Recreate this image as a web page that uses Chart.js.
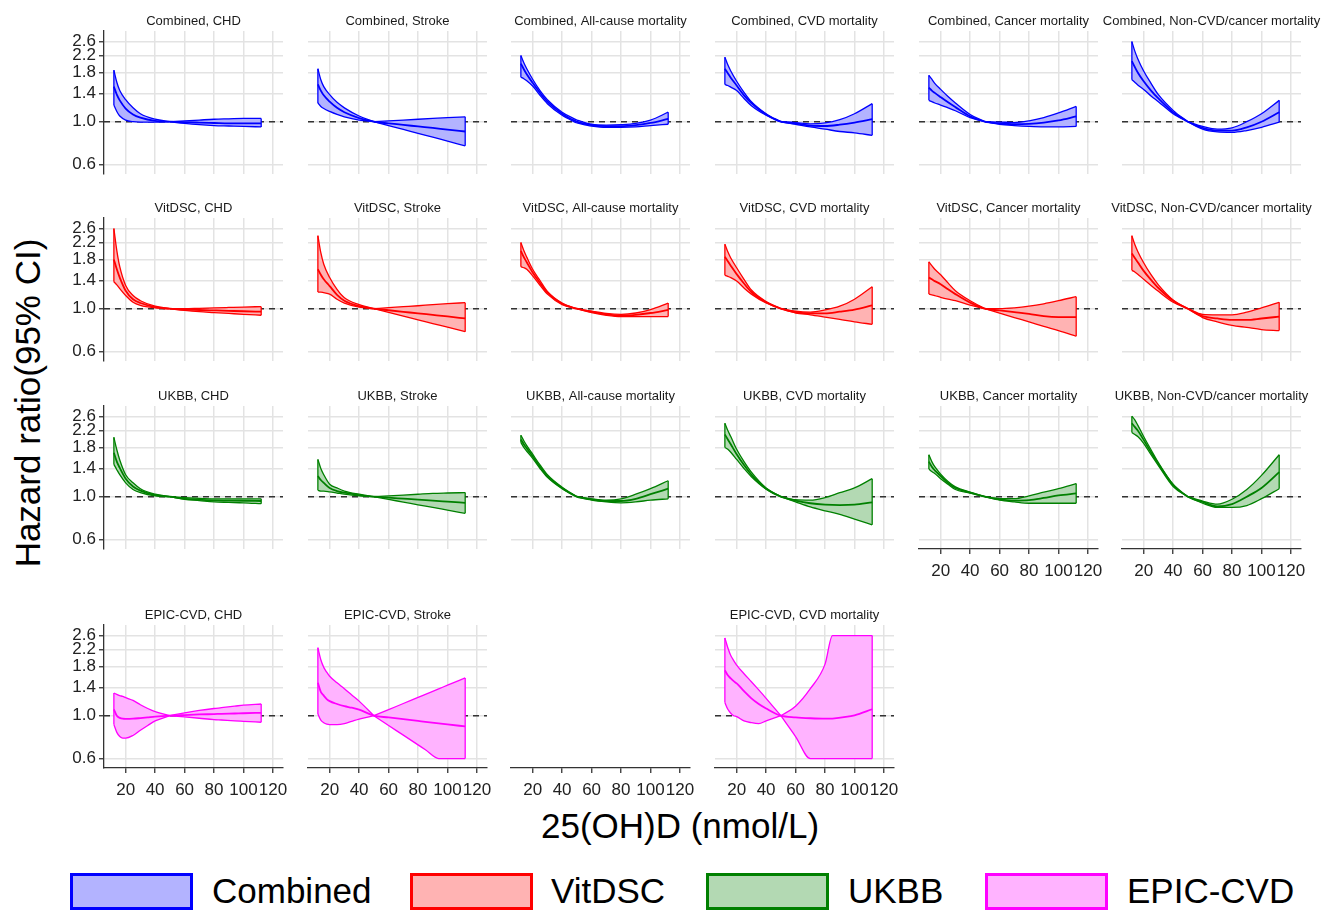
<!DOCTYPE html>
<html>
<head>
<meta charset="utf-8">
<script src="https://cdn.jsdelivr.net/npm/chart.js@4.4.1/dist/chart.umd.min.js"></script>
<style>
  body { margin: 0; background: #fff; }
  #page { position: relative; width: 1325px; height: 911px; overflow: hidden;
          font-family: "Liberation Sans", Arial, sans-serif; color: #000; }
  #page canvas { position: absolute; }
  .ytitle { position: absolute; left: 28px; top: 403px; transform: translate(-50%, -50%) rotate(-90deg);
            font-size: 35px; white-space: nowrap; }
  .xtitle { position: absolute; left: 680px; top: 826px; transform: translate(-50%, -50%);
            font-size: 35px; white-space: nowrap; }
  .key { position: absolute; top: 873px; width: 123px; height: 37px; box-sizing: border-box; border: 3px solid; }
  .keytext { position: absolute; top: 891px; transform: translateY(-50%); font-size: 35px; white-space: nowrap; }
</style>
</head>
<body>
<div id="page">
  <div class="ytitle">Hazard ratio(95% CI)</div>
  <div class="xtitle">25(OH)D (nmol/L)</div>
</div>
<script>
// ---- data (hazard ratio vs 25(OH)D) ----
const dose = [12, 14, 16, 20, 25, 30, 40, 50, 60, 70, 80, 90, 100, 112];
const doseEpic = [12, 14, 16, 18, 20, 25, 30, 35, 40, 50, 60, 70, 80, 85, 94, 100, 112];

const yTicks = [0.6, 1.0, 1.4, 1.8, 2.2, 2.6];
const xTicks = [20, 40, 60, 80, 100, 120];

const groups = ["Combined", "VitDSC", "UKBB", "EPIC-CVD"];
const groupLine = ["#0000FF", "#FF0000", "#008000", "#FF00FF"];
const groupFill = ["#B3B3FF", "#FFB3B3", "#B3D9B3", "#FFB3FF"];
const outcomes = ["CHD", "Stroke", "All-cause mortality", "CVD mortality", "Cancer mortality", "Non-CVD/cancer mortality"];

// Combined
const combChdHi = [1.85, 1.6, 1.45, 1.3, 1.18, 1.1, 1.03, 1.0, 1.01, 1.02, 1.03, 1.035, 1.04, 1.04];
const combChdEst = [1.52, 1.38, 1.29, 1.17, 1.09, 1.05, 1.01, 1.0, 0.995, 0.99, 0.985, 0.98, 0.98, 0.98];
const combChdLo = [1.22, 1.13, 1.07, 1.02, 1.0, 0.995, 0.995, 1.0, 0.98, 0.965, 0.955, 0.95, 0.945, 0.94];

const combStrokeHi = [1.88, 1.65, 1.52, 1.38, 1.26, 1.18, 1.07, 1.0, 1.01, 1.02, 1.03, 1.04, 1.05, 1.06];
const combStrokeEst = [1.56, 1.45, 1.37, 1.27, 1.18, 1.12, 1.045, 1.0, 0.98, 0.963, 0.945, 0.928, 0.91, 0.89];
const combStrokeLo = [1.25, 1.2, 1.17, 1.13, 1.09, 1.06, 1.02, 1.0, 0.955, 0.912, 0.87, 0.831, 0.793, 0.75];

const combAllHi = [2.2, 2.02, 1.88, 1.66, 1.45, 1.3, 1.12, 1.02, 0.97, 0.96, 0.965, 0.98, 1.02, 1.12];
const combAllEst = [2.0, 1.87, 1.76, 1.59, 1.41, 1.27, 1.1, 1.0, 0.96, 0.948, 0.948, 0.96, 0.985, 1.035];
const combAllLo = [1.7, 1.67, 1.63, 1.53, 1.37, 1.24, 1.08, 0.985, 0.95, 0.935, 0.935, 0.94, 0.955, 0.97];

const combCvdHi = [2.16, 1.97, 1.83, 1.62, 1.42, 1.27, 1.1, 1.0, 0.99, 0.975, 0.985, 1.025, 1.1, 1.24];
const combCvdEst = [1.88, 1.78, 1.69, 1.54, 1.37, 1.25, 1.09, 1.0, 0.98, 0.955, 0.95, 0.965, 0.99, 1.03];
const combCvdLo = [1.56, 1.54, 1.51, 1.45, 1.32, 1.21, 1.08, 1.0, 0.97, 0.94, 0.915, 0.89, 0.875, 0.85];

const combCancerHi = [1.74, 1.66, 1.58, 1.47, 1.35, 1.25, 1.09, 1.0, 0.996, 0.99, 1.01, 1.05, 1.11, 1.2];
const combCancerEst = [1.5, 1.45, 1.41, 1.34, 1.26, 1.19, 1.066, 1.0, 0.98, 0.97, 0.975, 0.99, 1.015, 1.065];
const combCancerLo = [1.29, 1.27, 1.25, 1.22, 1.18, 1.14, 1.05, 1.0, 0.97, 0.955, 0.945, 0.94, 0.94, 0.945];

const combOtherHi = [2.6, 2.32, 2.12, 1.83, 1.58, 1.38, 1.145, 1.0, 0.945, 0.915, 0.93, 1.0, 1.1, 1.29];
const combOtherEst = [2.06, 1.92, 1.8, 1.62, 1.45, 1.32, 1.12, 1.0, 0.93, 0.9, 0.9, 0.935, 1.0, 1.12];
const combOtherLo = [1.65, 1.6, 1.55, 1.47, 1.36, 1.27, 1.1, 1.0, 0.915, 0.885, 0.88, 0.9, 0.935, 0.995];

// VitDSC
const vitChdHi = [2.6, 2.0, 1.65, 1.32, 1.17, 1.1, 1.03, 1.0, 1.0, 1.005, 1.01, 1.015, 1.02, 1.025];
const vitChdEst = [1.8, 1.6, 1.45, 1.24, 1.12, 1.07, 1.02, 1.0, 0.99, 0.985, 0.98, 0.975, 0.97, 0.965];
const vitChdLo = [1.38, 1.33, 1.27, 1.17, 1.08, 1.04, 1.01, 1.0, 0.98, 0.965, 0.955, 0.945, 0.935, 0.925];

const vitStrokeHi = [2.39, 1.95, 1.7, 1.45, 1.26, 1.14, 1.05, 1.0, 1.012, 1.024, 1.036, 1.05, 1.062, 1.075];
const vitStrokeEst = [1.6, 1.5, 1.42, 1.31, 1.18, 1.1, 1.03, 1.0, 0.982, 0.964, 0.946, 0.929, 0.912, 0.89];
const vitStrokeLo = [1.22, 1.22, 1.21, 1.19, 1.12, 1.07, 1.02, 1.0, 0.957, 0.915, 0.876, 0.838, 0.802, 0.76];

const vitAllHi = [2.2, 2.0, 1.85, 1.6, 1.4, 1.23, 1.07, 1.0, 0.97, 0.945, 0.935, 0.95, 0.99, 1.07];
const vitAllEst = [1.99, 1.85, 1.74, 1.54, 1.36, 1.21, 1.06, 1.0, 0.965, 0.935, 0.92, 0.93, 0.95, 0.985];
const vitAllLo = [1.65, 1.63, 1.6, 1.48, 1.32, 1.19, 1.05, 1.0, 0.955, 0.925, 0.91, 0.91, 0.91, 0.91];

const vitCvdHi = [2.16, 1.97, 1.83, 1.63, 1.42, 1.25, 1.09, 1.0, 0.97, 0.96, 0.985, 1.03, 1.12, 1.3];
const vitCvdEst = [1.86, 1.76, 1.67, 1.51, 1.35, 1.22, 1.08, 1.0, 0.96, 0.945, 0.945, 0.965, 0.99, 1.04];
const vitCvdLo = [1.49, 1.47, 1.45, 1.39, 1.28, 1.19, 1.07, 1.0, 0.95, 0.93, 0.905, 0.88, 0.855, 0.83];

const vitCancerHi = [1.75, 1.67, 1.6, 1.5, 1.36, 1.24, 1.1, 1.0, 1.0, 1.01, 1.03, 1.06, 1.1, 1.155];
const vitCancerEst = [1.45, 1.42, 1.39, 1.34, 1.26, 1.19, 1.075, 1.0, 0.98, 0.96, 0.94, 0.915, 0.905, 0.905];
const vitCancerLo = [1.19, 1.18, 1.17, 1.145, 1.12, 1.1, 1.045, 1.0, 0.95, 0.9, 0.855, 0.81, 0.77, 0.72];

const vitOtherHi = [2.39, 2.15, 1.98, 1.73, 1.5, 1.33, 1.11, 1.0, 0.935, 0.93, 0.93, 0.96, 1.01, 1.08];
const vitOtherEst = [1.93, 1.83, 1.74, 1.57, 1.41, 1.28, 1.1, 1.0, 0.915, 0.89, 0.875, 0.875, 0.89, 0.91];
const vitOtherLo = [1.58, 1.55, 1.51, 1.42, 1.32, 1.23, 1.08, 1.0, 0.9, 0.855, 0.82, 0.8, 0.78, 0.77];

// UKBB
const ukbChdHi = [2.03, 1.75, 1.55, 1.3, 1.18, 1.1, 1.03, 1.0, 0.99, 0.98, 0.975, 0.975, 0.975, 0.975];
const ukbChdEst = [1.69, 1.52, 1.41, 1.24, 1.13, 1.075, 1.02, 1.0, 0.975, 0.965, 0.957, 0.955, 0.953, 0.95];
const ukbChdLo = [1.47, 1.38, 1.3, 1.18, 1.09, 1.05, 1.01, 1.0, 0.97, 0.955, 0.94, 0.935, 0.93, 0.92];

const ukbStrokeHi = [1.56, 1.4, 1.3, 1.16, 1.11, 1.07, 1.03, 1.0, 1.01, 1.02, 1.03, 1.04, 1.045, 1.05];
const ukbStrokeEst = [1.28, 1.22, 1.18, 1.11, 1.07, 1.05, 1.02, 1.0, 0.988, 0.977, 0.966, 0.954, 0.943, 0.93];
const ukbStrokeLo = [1.08, 1.07, 1.07, 1.06, 1.045, 1.03, 1.01, 1.0, 0.968, 0.938, 0.908, 0.88, 0.852, 0.82];

const ukbAllHi = [2.08, 1.95, 1.84, 1.66, 1.46, 1.3, 1.12, 1.0, 0.975, 0.96, 0.975, 1.03, 1.1, 1.21];
const ukbAllEst = [1.98, 1.87, 1.78, 1.62, 1.43, 1.28, 1.11, 1.0, 0.97, 0.95, 0.95, 0.975, 1.03, 1.1];
const ukbAllLo = [1.91, 1.8, 1.72, 1.58, 1.4, 1.26, 1.1, 1.0, 0.96, 0.94, 0.93, 0.94, 0.96, 0.975];

const ukbCvdHi = [2.4, 2.2, 2.05, 1.76, 1.52, 1.34, 1.11, 1.0, 0.965, 0.96, 0.99, 1.05, 1.11, 1.24];
const ukbCvdEst = [2.1, 1.98, 1.87, 1.66, 1.46, 1.3, 1.1, 1.0, 0.955, 0.925, 0.91, 0.905, 0.91, 0.935];
const ukbCvdLo = [1.8, 1.76, 1.7, 1.56, 1.4, 1.27, 1.095, 1.0, 0.94, 0.885, 0.845, 0.81, 0.765, 0.715];

const ukbCancerHi = [1.65, 1.52, 1.43, 1.31, 1.2, 1.125, 1.055, 1.0, 0.977, 0.977, 1.01, 1.055, 1.1, 1.17];
const ukbCancerEst = [1.52, 1.43, 1.37, 1.28, 1.18, 1.11, 1.05, 1.0, 0.97, 0.955, 0.96, 0.985, 1.015, 1.04];
const ukbCancerLo = [1.39, 1.35, 1.32, 1.24, 1.16, 1.09, 1.045, 1.0, 0.96, 0.94, 0.925, 0.925, 0.925, 0.925];

const ukbOtherHi = [2.61, 2.5, 2.35, 2.05, 1.75, 1.5, 1.16, 1.0, 0.95, 0.915, 0.97, 1.09, 1.29, 1.65];
const ukbOtherEst = [2.4, 2.3, 2.2, 1.97, 1.7, 1.48, 1.15, 1.0, 0.94, 0.89, 0.915, 1.0, 1.11, 1.34];
const ukbOtherLo = [2.15, 2.1, 2.05, 1.89, 1.65, 1.45, 1.13, 1.0, 0.925, 0.88, 0.88, 0.9, 0.977, 1.1];

// EPIC-CVD (CI clipped at the 0.6 / 2.6 plot limits)
const epicChdHi = [1.31, 1.29, 1.27, 1.26, 1.24, 1.2, 1.14, 1.09, 1.05, 1.0, 1.035, 1.065, 1.09, 1.1, 1.12, 1.135, 1.15];
const epicChdEst = [1.08, 1.0, 0.975, 0.965, 0.963, 0.965, 0.972, 0.98, 0.988, 1.0, 1.008, 1.015, 1.02, 1.023, 1.027, 1.03, 1.035];
const epicChdLo = [0.9, 0.82, 0.78, 0.765, 0.765, 0.79, 0.84, 0.89, 0.94, 1.0, 0.985, 0.97, 0.955, 0.95, 0.94, 0.935, 0.925];

const epicStrokeHi = [2.25, 1.95, 1.78, 1.68, 1.6, 1.48, 1.38, 1.28, 1.19, 1.0, 1.075, 1.157, 1.244, 1.29, 1.377, 1.439, 1.57];
const epicStrokeEst = [1.48, 1.33, 1.27, 1.22, 1.19, 1.15, 1.12, 1.1, 1.075, 1.0, 0.98, 0.96, 0.94, 0.93, 0.913, 0.902, 0.88];
const epicStrokeLo = [1.02, 0.95, 0.92, 0.905, 0.9, 0.9, 0.91, 0.935, 0.96, 1.0, 0.89, 0.793, 0.706, 0.666, 0.6, 0.6, 0.6];

const epicCvdHi = [2.53, 2.25, 2.05, 1.93, 1.83, 1.65, 1.5, 1.36, 1.23, 1.0, 1.12, 1.38, 1.85, 2.6, 2.6, 2.6, 2.6];
const epicCvdEst = [1.72, 1.62, 1.56, 1.51, 1.47, 1.34, 1.23, 1.15, 1.09, 1.0, 0.98, 0.97, 0.965, 0.967, 0.985, 1.005, 1.08];
const epicCvdLo = [1.17, 1.08, 1.03, 1.0, 0.99, 0.94, 0.92, 0.91, 0.94, 1.0, 0.78, 0.6, 0.6, 0.6, 0.6, 0.6, 0.6];

// ---- layout ----
const colLeft = [104, 308, 511, 715, 919, 1122];
const rowTop = [31, 218, 406, 625];
const PW = 179, PH = 143;
const PAD_L = 60, PAD_T = 24, PAD_R = 30, PAD_B = 40;
const X_MIN = 5.3, X_MAX = 126.8;
const Y_MIN = 0.536, Y_MAX = 2.95;

const panels = [
  { row: 0, col: 0, group: 0, out: 0, x: dose, hi: combChdHi, est: combChdEst, lo: combChdLo },
  { row: 0, col: 1, group: 0, out: 1, x: dose, hi: combStrokeHi, est: combStrokeEst, lo: combStrokeLo },
  { row: 0, col: 2, group: 0, out: 2, x: dose, hi: combAllHi, est: combAllEst, lo: combAllLo },
  { row: 0, col: 3, group: 0, out: 3, x: dose, hi: combCvdHi, est: combCvdEst, lo: combCvdLo },
  { row: 0, col: 4, group: 0, out: 4, x: dose, hi: combCancerHi, est: combCancerEst, lo: combCancerLo },
  { row: 0, col: 5, group: 0, out: 5, x: dose, hi: combOtherHi, est: combOtherEst, lo: combOtherLo },
  { row: 1, col: 0, group: 1, out: 0, x: dose, hi: vitChdHi, est: vitChdEst, lo: vitChdLo },
  { row: 1, col: 1, group: 1, out: 1, x: dose, hi: vitStrokeHi, est: vitStrokeEst, lo: vitStrokeLo },
  { row: 1, col: 2, group: 1, out: 2, x: dose, hi: vitAllHi, est: vitAllEst, lo: vitAllLo },
  { row: 1, col: 3, group: 1, out: 3, x: dose, hi: vitCvdHi, est: vitCvdEst, lo: vitCvdLo },
  { row: 1, col: 4, group: 1, out: 4, x: dose, hi: vitCancerHi, est: vitCancerEst, lo: vitCancerLo },
  { row: 1, col: 5, group: 1, out: 5, x: dose, hi: vitOtherHi, est: vitOtherEst, lo: vitOtherLo },
  { row: 2, col: 0, group: 2, out: 0, x: dose, hi: ukbChdHi, est: ukbChdEst, lo: ukbChdLo },
  { row: 2, col: 1, group: 2, out: 1, x: dose, hi: ukbStrokeHi, est: ukbStrokeEst, lo: ukbStrokeLo },
  { row: 2, col: 2, group: 2, out: 2, x: dose, hi: ukbAllHi, est: ukbAllEst, lo: ukbAllLo },
  { row: 2, col: 3, group: 2, out: 3, x: dose, hi: ukbCvdHi, est: ukbCvdEst, lo: ukbCvdLo },
  { row: 2, col: 4, group: 2, out: 4, x: dose, hi: ukbCancerHi, est: ukbCancerEst, lo: ukbCancerLo, axis: true },
  { row: 2, col: 5, group: 2, out: 5, x: dose, hi: ukbOtherHi, est: ukbOtherEst, lo: ukbOtherLo, axis: true },
  { row: 3, col: 0, group: 3, out: 0, x: doseEpic, hi: epicChdHi, est: epicChdEst, lo: epicChdLo, axis: true },
  { row: 3, col: 1, group: 3, out: 1, x: doseEpic, hi: epicStrokeHi, est: epicStrokeEst, lo: epicStrokeLo, axis: true },
  { row: 3, col: 2, empty: true, axis: true },
  { row: 3, col: 3, group: 3, out: 3, x: doseEpic, hi: epicCvdHi, est: epicCvdEst, lo: epicCvdLo, axis: true }
];

Chart.defaults.font.family = '"Liberation Sans", Arial, sans-serif';

// facet strip label drawn above each plot area
const stripTitle = {
  id: "strip",
  afterDraw(chart, args, opts) {
    if (!opts.text) return;
    const { ctx, chartArea } = chart;
    ctx.save();
    ctx.font = '13px "Liberation Sans", Arial, sans-serif';
    ctx.fillStyle = "#1a1a1a";
    ctx.textAlign = "center";
    ctx.textBaseline = "middle";
    ctx.fillText(opts.text, (chartArea.left + chartArea.right) / 2, chartArea.top - 10);
    ctx.restore();
  }
};

function buildDatasets(p) {
  if (p.empty) return [];
  const xs = p.x;
  const n = xs.length;
  const ref = xs.indexOf(50);
  const pts = (arr, a, b) => arr.slice(a, b).map((y, i) => ({ x: xs[a + i], y }));
  const line = groupLine[p.group];
  const fill = groupFill[p.group];
  const band = { borderColor: line, borderWidth: 1.3, pointRadius: 0, cubicInterpolationMode: "monotone" };
  return [
    // CI ribbon, split at the reference value so the pinch stays sharp
    { ...band, data: pts(p.hi, 0, ref + 1), fill: { target: "+1" }, backgroundColor: fill, order: 2 },
    { ...band, data: pts(p.lo, 0, ref + 1), fill: false, order: 1.5 },
    { ...band, data: pts(p.hi, ref, n), fill: { target: "+1" }, backgroundColor: fill, order: 2 },
    { ...band, data: pts(p.lo, ref, n), fill: false, order: 1.5 },
    // ribbon end edges
    { data: [{ x: xs[0], y: p.lo[0] }, { x: xs[0], y: p.hi[0] }], borderColor: line, borderWidth: 1.3,
      pointRadius: 0, fill: false, order: 1 },
    { data: [{ x: xs[n - 1], y: p.lo[n - 1] }, { x: xs[n - 1], y: p.hi[n - 1] }], borderColor: line,
      borderWidth: 1.3, pointRadius: 0, fill: false, order: 1 },
    // point estimate
    { data: pts(p.est, 0, n), borderColor: line, borderWidth: 1.8, pointRadius: 0,
      cubicInterpolationMode: "monotone", fill: false, order: 1 },
    // HR = 1 reference
    { data: [{ x: X_MIN, y: 1 }, { x: X_MAX, y: 1 }], borderColor: "#333333", borderWidth: 1.4,
      borderDash: [6, 5], pointRadius: 0, fill: false, order: 3 }
  ];
}

const page = document.getElementById("page");

panels.forEach((p) => {
  const canvas = document.createElement("canvas");
  canvas.width = PW + PAD_L + PAD_R;
  canvas.height = PH + PAD_T + PAD_B;
  canvas.style.left = (colLeft[p.col] - PAD_L) + "px";
  canvas.style.top = (rowTop[p.row] - PAD_T) + "px";
  page.appendChild(canvas);

  const firstCol = p.col === 0 && !p.empty;
  const showX = !!p.axis;

  new Chart(canvas, {
    type: "line",
    data: { datasets: buildDatasets(p) },
    plugins: [stripTitle],
    options: {
      responsive: false,
      animation: false,
      devicePixelRatio: 1,
      events: [],
      layout: { padding: { left: 0, top: PAD_T, right: PAD_R, bottom: 0 } },
      plugins: {
        legend: { display: false },
        tooltip: { enabled: false },
        strip: { text: p.empty ? "" : groups[p.group] + ", " + outcomes[p.out] }
      },
      scales: {
        x: {
          type: "linear",
          min: X_MIN,
          max: X_MAX,
          afterBuildTicks: (axis) => { axis.ticks = xTicks.map((v) => ({ value: v })); },
          afterFit: (axis) => { axis.height = PAD_B; },
          ticks: {
            display: showX,
            autoSkip: false,
            maxRotation: 0,
            minRotation: 0,
            padding: 7,
            font: { size: 17 },
            color: "#222",
            callback: (v) => String(v)
          },
          grid: {
            color: "#e3e3e3",
            lineWidth: 1.5,
            drawOnChartArea: !p.empty,
            drawTicks: showX,
            tickLength: 5,
            tickColor: "#333",
            tickWidth: 1.3
          },
          border: { display: showX, color: "#333", width: 1.3 }
        },
        y: {
          type: "logarithmic",
          min: Y_MIN,
          max: Y_MAX,
          afterBuildTicks: (axis) => { axis.ticks = yTicks.map((v) => ({ value: v })); },
          afterFit: (axis) => { axis.width = PAD_L; },
          ticks: {
            display: firstCol,
            padding: 3,
            font: { size: 17 },
            color: "#222",
            callback: (v) => Number(v).toFixed(1)
          },
          grid: {
            display: !p.empty,
            color: "#e3e3e3",
            lineWidth: 1.5,
            drawTicks: firstCol,
            tickLength: 5,
            tickColor: "#333",
            tickWidth: 1.3
          },
          border: { display: firstCol, color: "#333", width: 1.3 }
        }
      }
    }
  });
});

// legend
const keyLeft = [70, 410, 706, 985];
const keyTextLeft = [212, 551, 848, 1127];
groups.forEach((g, i) => {
  const box = document.createElement("div");
  box.className = "key";
  box.style.left = keyLeft[i] + "px";
  box.style.borderColor = groupLine[i];
  box.style.background = groupFill[i];
  page.appendChild(box);
  const label = document.createElement("div");
  label.className = "keytext";
  label.style.left = keyTextLeft[i] + "px";
  label.textContent = g;
  page.appendChild(label);
});
</script>
</body>
</html>
